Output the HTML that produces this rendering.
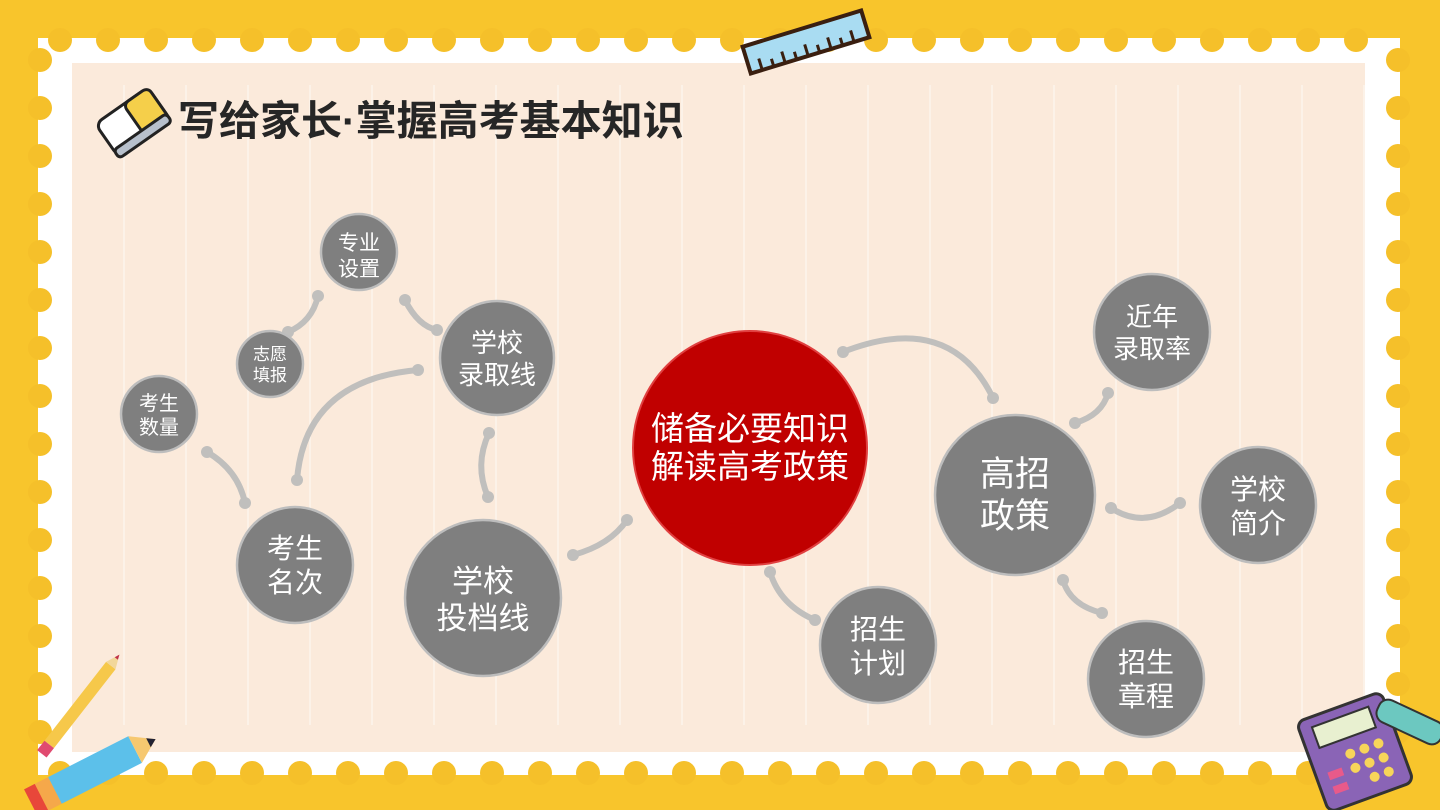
<!DOCTYPE html>
<html><head><meta charset="utf-8"><style>
body{margin:0;width:1440px;height:810px;overflow:hidden;background:#f8c52c;font-family:"Liberation Sans","Noto Sans CJK SC",sans-serif}
</style></head><body>
<svg width="1440" height="810" viewBox="0 0 1440 810" xmlns="http://www.w3.org/2000/svg" style="position:absolute;left:0;top:0">
<defs>
<pattern id="vl" x="123" y="0" width="62" height="810" patternUnits="userSpaceOnUse"><rect x="0" y="0" width="2" height="810" fill="#fcf2e8"/></pattern>
</defs>
<rect width="1440" height="810" fill="#f8c52c"/>
<rect x="38" y="38" width="1362" height="737" fill="#fff"/>
<g fill="#f5c02a" id="tb"></g>
<rect x="72" y="63" width="1293" height="689" fill="#fbeadb"/>
<rect x="72" y="85" width="1293" height="640" fill="url(#vl)"/>

<!-- ruler -->
<g transform="translate(806,42) rotate(-17)">
<rect x="-62" y="-14" width="124" height="28" fill="#a9dcf2" stroke="#3a1f10" stroke-width="4"/>
<g stroke="#3a1f10" stroke-width="3"><line x1="-50" y1="14" x2="-50" y2="2"/><line x1="-38" y1="14" x2="-38" y2="6"/><line x1="-26" y1="14" x2="-26" y2="2"/><line x1="-14" y1="14" x2="-14" y2="6"/><line x1="-2" y1="14" x2="-2" y2="2"/><line x1="10" y1="14" x2="10" y2="6"/><line x1="22" y1="14" x2="22" y2="2"/><line x1="34" y1="14" x2="34" y2="6"/><line x1="46" y1="14" x2="46" y2="2"/></g>
</g>

<!-- eraser -->
<g transform="translate(133,122) rotate(-35)">
<rect x="-32" y="-20" width="64" height="40" rx="8" fill="#fff" stroke="#222" stroke-width="3"/>
<rect x="2" y="-20" width="30" height="40" rx="6" fill="#f5cf4a" stroke="#222" stroke-width="3"/>
<rect x="-32" y="12" width="64" height="10" rx="4" fill="#b7c0cc" stroke="#222" stroke-width="3"/>
</g>
<text x="178" y="135" font-size="41" font-weight="bold" fill="#262626" font-family="Liberation Sans,Noto Sans CJK SC,sans-serif">写给家长·掌握高考基本知识</text>

<!-- connectors -->
<g fill="none" stroke="#c0bfbd" stroke-width="6" stroke-linecap="round">
<path d="M318,296 Q312,322 288,332"/>
<path d="M405,300 Q418,326 437,330"/>
<path d="M207,452 Q238,470 245,503"/>
<path d="M297,480 Q305,380 418,370"/>
<path d="M489,433 Q474,465 488,497"/>
<path d="M573,555 Q610,545 627,520"/>
<path d="M770,572 Q780,605 815,620"/>
<path d="M843,352 Q950,310 993,398"/>
<path d="M1075,423 Q1102,415 1108,393"/>
<path d="M1111,508 Q1145,530 1180,503"/>
<path d="M1063,580 Q1070,605 1102,613"/>
</g>
<g fill="#c0bfbd">
<circle cx="318" cy="296" r="6"/><circle cx="288" cy="332" r="6"/><circle cx="405" cy="300" r="6"/><circle cx="437" cy="330" r="6"/>
<circle cx="207" cy="452" r="6"/><circle cx="245" cy="503" r="6"/><circle cx="297" cy="480" r="6"/><circle cx="418" cy="370" r="6"/>
<circle cx="489" cy="433" r="6"/><circle cx="488" cy="497" r="6"/><circle cx="573" cy="555" r="6"/><circle cx="627" cy="520" r="6"/>
<circle cx="770" cy="572" r="6"/><circle cx="815" cy="620" r="6"/><circle cx="843" cy="352" r="6"/><circle cx="993" cy="398" r="6"/>
<circle cx="1075" cy="423" r="6"/><circle cx="1108" cy="393" r="6"/><circle cx="1111" cy="508" r="6"/><circle cx="1180" cy="503" r="6"/>
<circle cx="1063" cy="580" r="6"/><circle cx="1102" cy="613" r="6"/>
</g>

<!-- nodes -->
<g fill="#7f7f7f" stroke="#bdbdbd" stroke-width="2.5">
<circle cx="359" cy="252" r="38"/><circle cx="270" cy="364" r="33"/><circle cx="497" cy="358" r="57"/>
<circle cx="159" cy="414" r="38"/><circle cx="295" cy="565" r="58"/><circle cx="483" cy="598" r="78"/>
<circle cx="878" cy="645" r="58"/><circle cx="1015" cy="495" r="80"/><circle cx="1152" cy="332" r="58"/>
<circle cx="1258" cy="505" r="58"/><circle cx="1146" cy="679" r="58"/>
</g>
<circle cx="750" cy="448" r="117" fill="#c00000" stroke="#e04040" stroke-width="2"/>
<g fill="#fff" text-anchor="middle" font-family="Liberation Sans,Noto Sans CJK SC,sans-serif">
<text x="359" y="250" font-size="21">专业</text><text x="359" y="276" font-size="21">设置</text>
<text x="270" y="360" font-size="17">志愿</text><text x="270" y="381" font-size="17">填报</text>
<text x="497" y="352" font-size="26">学校</text><text x="497" y="384" font-size="26">录取线</text>
<text x="159" y="410" font-size="20">考生</text><text x="159" y="434" font-size="20">数量</text>
<text x="295" y="558" font-size="28">考生</text><text x="295" y="592" font-size="28">名次</text>
<text x="483" y="592" font-size="31">学校</text><text x="483" y="629" font-size="31">投档线</text>
<text x="750" y="440" font-size="33">储备必要知识</text><text x="750" y="478" font-size="33">解读高考政策</text>
<text x="878" y="639" font-size="28">招生</text><text x="878" y="673" font-size="28">计划</text>
<text x="1015" y="486" font-size="35">高招</text><text x="1015" y="528" font-size="35">政策</text>
<text x="1152" y="326" font-size="26">近年</text><text x="1152" y="358" font-size="26">录取率</text>
<text x="1258" y="499" font-size="28">学校</text><text x="1258" y="533" font-size="28">简介</text>
<text x="1146" y="672" font-size="28">招生</text><text x="1146" y="706" font-size="28">章程</text>
</g>

<!-- pencils -->
<g transform="translate(80,705) rotate(-52)">
<rect x="-50" y="-6" width="100" height="12" fill="#f6c84a"/><polygon points="50,-6 64,0 50,6" fill="#f2d79a"/><polygon points="59,-2 64,0 59,2" fill="#c0304a"/>
<rect x="-62" y="-6" width="12" height="12" fill="#e04a70"/>
</g>
<g transform="translate(95,770) rotate(-27)">
<rect x="-45" y="-15" width="90" height="30" fill="#5cc0ea"/><polygon points="45,-15 68,0 45,15" fill="#f6c870"/><polygon points="60,-5 68,0 60,5" fill="#223"/>
<rect x="-60" y="-15" width="15" height="30" fill="#f5a84a"/><rect x="-72" y="-15" width="12" height="30" fill="#e8473a"/>
</g>
<!-- calculator -->
<g transform="translate(1355,752) rotate(-20)">
<rect x="-45" y="-48" width="90" height="96" rx="8" fill="#8a64b6" stroke="#333" stroke-width="3"/>
<rect x="-32" y="-38" width="60" height="22" fill="#e8f0d0" stroke="#333" stroke-width="2"/>
<g fill="#f7d55a"><circle cx="-5" cy="0" r="5"/><circle cx="10" cy="0" r="5"/><circle cx="25" cy="0" r="5"/><circle cx="-5" cy="15" r="5"/><circle cx="10" cy="15" r="5"/><circle cx="25" cy="15" r="5"/><circle cx="10" cy="30" r="5"/><circle cx="25" cy="30" r="5"/></g>
<g fill="#e85a8a"><rect x="-33" y="10" width="15" height="8"/><rect x="-33" y="25" width="15" height="8"/></g>
</g>
<g transform="translate(1410,722) rotate(25)"><rect x="-35" y="-12" width="70" height="24" rx="10" fill="#6cc8c0" stroke="#333" stroke-width="2"/></g>
</svg>
<script>
(function(){var s=document.getElementById('tb'),ns='http://www.w3.org/2000/svg';
function c(x,y){var e=document.createElementNS(ns,'circle');e.setAttribute('cx',x);e.setAttribute('cy',y);e.setAttribute('r',12);s.appendChild(e);}
for(var x=60;x<1400;x+=48){c(x,40);c(x,773);}
for(var y=60;y<775;y+=48){c(40,y);c(1398,y);}
})();
</script>
</body></html>
